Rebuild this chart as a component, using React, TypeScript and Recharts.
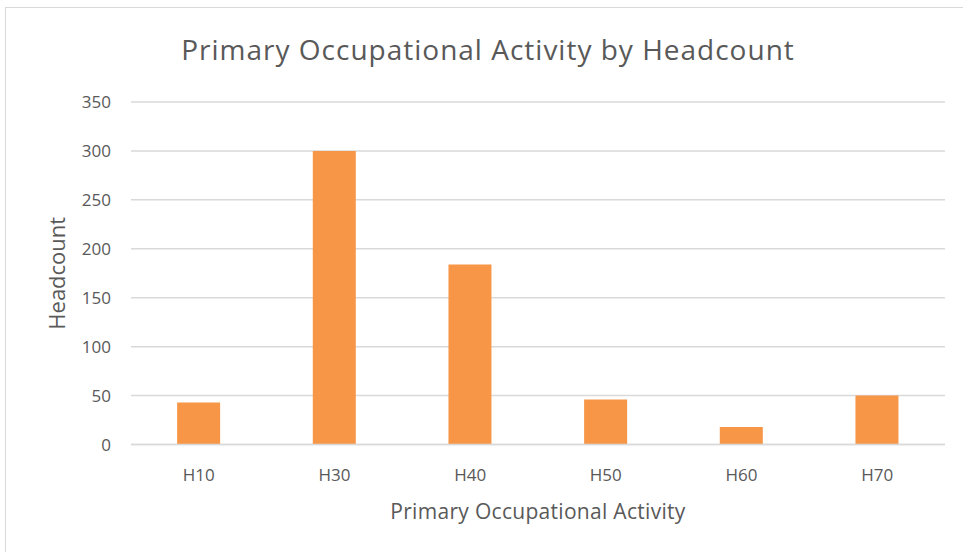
import React from "react";
import { BarChart, Bar, XAxis, YAxis, CartesianGrid } from "recharts";

const categories = ["H10", "H30", "H40", "H50", "H60", "H70"];
const headcounts = [43, 300, 184, 46, 18, 50];
const yTicks = [0, 50, 100, 150, 200, 250, 300, 350];

const data = categories.map((c, i) => ({ name: c, value: headcounts[i] }));

const FONT = "'Open Sans', sans-serif";
const TEXT = "#595959";

export default function App() {
  return (
    <div style={{ position: "absolute", left: 0, top: 0, width: 963, height: 552, background: "#fff", overflow: "hidden", fontFamily: FONT }}>
      <div style={{ position: "absolute", left: 5, top: 7, width: 970, height: 560, border: "1px solid #d9d9d9", boxSizing: "border-box" }} />
      <div style={{ position: "absolute", left: 0, top: 29, width: 976, textAlign: "center", fontSize: 28, letterSpacing: 1, color: TEXT, lineHeight: "40px" }}>
        Primary Occupational Activity by Headcount
      </div>
      <div style={{ position: "absolute", left: 0, top: 0 }}>
        <BarChart
          width={963}
          height={552}
          data={data}
          margin={{ top: 102, right: 18, bottom: 47.5, left: 0 }}
          barCategoryGap="34%"
        >
          <CartesianGrid vertical={false} stroke="#d9d9d9" strokeWidth={1.5} />
          <XAxis
            dataKey="name"
            height={60}
            axisLine={{ stroke: "#d9d9d9", strokeWidth: 1.5 }}
            tickLine={false}
            tickSize={0}
            tickMargin={24}
            tick={{ fill: TEXT, fontSize: 17, fontFamily: FONT }}
            label={{ value: "Primary Occupational Activity", position: "insideBottom", offset: -14, fill: TEXT, fontSize: 21, fontFamily: FONT, style: { letterSpacing: 0.3 } }}
          />
          <YAxis
            width={131}
            domain={[0, 350]}
            ticks={yTicks}
            axisLine={false}
            tickLine={false}
            tickSize={0}
            tickMargin={20}
            tick={{ fill: TEXT, fontSize: 17, fontFamily: FONT }}
            label={{ value: "Headcount", angle: -90, position: "insideLeft", offset: 57, fill: TEXT, fontSize: 22, fontFamily: FONT, style: { textAnchor: "middle" } }}
          />
          <Bar dataKey="value" fill="#f79646" isAnimationActive={false} />
        </BarChart>
      </div>
    </div>
  );
}
